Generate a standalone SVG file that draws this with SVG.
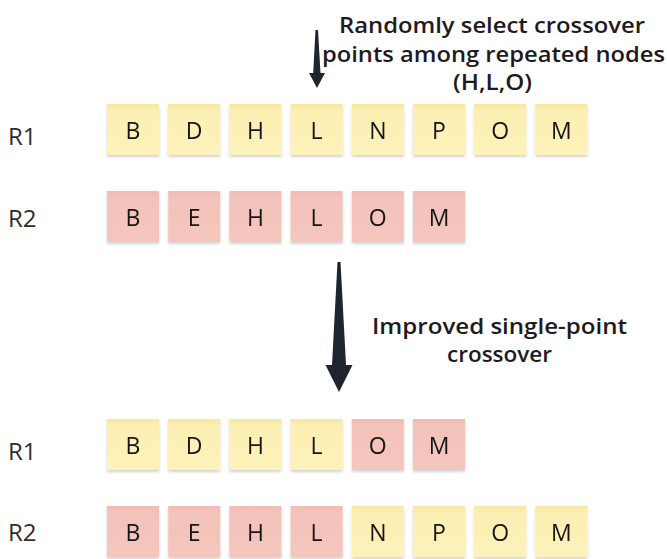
<svg xmlns="http://www.w3.org/2000/svg" width="667" height="559" viewBox="0 0 667 559">
  <defs>
    <linearGradient id="gYellow" x1="0" y1="0" x2="0" y2="1">
      <stop offset="0" stop-color="#f8e7a2"/>
      <stop offset="0.14" stop-color="#fcefb3"/>
      <stop offset="1" stop-color="#fdf2ba"/>
    </linearGradient>
    <linearGradient id="gPink" x1="0" y1="0" x2="0" y2="1">
      <stop offset="0" stop-color="#f0bcb3"/>
      <stop offset="0.14" stop-color="#f3c3bb"/>
      <stop offset="1" stop-color="#f4c6be"/>
    </linearGradient>
    <filter id="shadow" x="-10%" y="-10%" width="120%" height="130%">
      <feGaussianBlur in="SourceAlpha" stdDeviation="1.5"/>
      <feOffset dx="0" dy="2" result="b"/>
      <feComponentTransfer><feFuncA type="linear" slope="0.18"/></feComponentTransfer>
      <feMerge><feMergeNode/><feMergeNode in="SourceGraphic"/></feMerge>
    </filter>
  </defs>
  <style>
    .note { filter: url(#shadow); }
    .y { fill: url(#gYellow); }
    .p { fill: url(#gPink); }
    .lt { font-family: "Open Sans", "Noto Sans", sans-serif; font-size: 23px; fill: #141414; text-anchor: middle; }
    .row { font-family: "Open Sans", "Noto Sans", sans-serif; font-size: 24px; fill: #2e2e2e; }
    .cap { font-family: "Open Sans", "Noto Sans", sans-serif; font-size: 22px; font-weight: 600; fill: #1e1a1e; text-anchor: middle; }
    .arrow { fill: #1e2530; }
  </style>

  <!-- row labels -->
  <g id="labels">
    <text class="row" x="8" y="145">R1</text>
    <text class="row" x="8" y="227">R2</text>
    <text class="row" x="8" y="460">R1</text>
    <text class="row" x="8" y="541">R2</text>
  </g>

  <!-- parent R1 -->
  <g id="p1-B" class="note"><rect class="y" x="107" y="104" width="52" height="51"/><text class="lt" x="133" y="139">B</text></g>
  <g id="p1-D" class="note"><rect class="y" x="168.2" y="104" width="52" height="51"/><text class="lt" x="194.2" y="139">D</text></g>
  <g id="p1-H" class="note"><rect class="y" x="229.4" y="104" width="52" height="51"/><text class="lt" x="255.4" y="139">H</text></g>
  <g id="p1-L" class="note"><rect class="y" x="290.6" y="104" width="52" height="51"/><text class="lt" x="316.6" y="139">L</text></g>
  <g id="p1-N" class="note"><rect class="y" x="351.8" y="104" width="52" height="51"/><text class="lt" x="377.8" y="139">N</text></g>
  <g id="p1-P" class="note"><rect class="y" x="413" y="104" width="52" height="51"/><text class="lt" x="439" y="139">P</text></g>
  <g id="p1-O" class="note"><rect class="y" x="474.2" y="104" width="52" height="51"/><text class="lt" x="500.2" y="139">O</text></g>
  <g id="p1-M" class="note"><rect class="y" x="535.4" y="104" width="52" height="51"/><text class="lt" x="561.4" y="139">M</text></g>

  <!-- parent R2 -->
  <g id="p2-B" class="note"><rect class="p" x="107" y="191" width="52" height="51"/><text class="lt" x="133" y="226">B</text></g>
  <g id="p2-E" class="note"><rect class="p" x="168.2" y="191" width="52" height="51"/><text class="lt" x="194.2" y="226">E</text></g>
  <g id="p2-H" class="note"><rect class="p" x="229.4" y="191" width="52" height="51"/><text class="lt" x="255.4" y="226">H</text></g>
  <g id="p2-L" class="note"><rect class="p" x="290.6" y="191" width="52" height="51"/><text class="lt" x="316.6" y="226">L</text></g>
  <g id="p2-O" class="note"><rect class="p" x="351.8" y="191" width="52" height="51"/><text class="lt" x="377.8" y="226">O</text></g>
  <g id="p2-M" class="note"><rect class="p" x="413" y="191" width="52" height="51"/><text class="lt" x="439" y="226">M</text></g>

  <!-- offspring R1 -->
  <g id="c1-B" class="note"><rect class="y" x="107" y="419" width="52" height="51"/><text class="lt" x="133" y="454">B</text></g>
  <g id="c1-D" class="note"><rect class="y" x="168.2" y="419" width="52" height="51"/><text class="lt" x="194.2" y="454">D</text></g>
  <g id="c1-H" class="note"><rect class="y" x="229.4" y="419" width="52" height="51"/><text class="lt" x="255.4" y="454">H</text></g>
  <g id="c1-L" class="note"><rect class="y" x="290.6" y="419" width="52" height="51"/><text class="lt" x="316.6" y="454">L</text></g>
  <g id="c1-O" class="note"><rect class="p" x="351.8" y="419" width="52" height="51"/><text class="lt" x="377.8" y="454">O</text></g>
  <g id="c1-M" class="note"><rect class="p" x="413" y="419" width="52" height="51"/><text class="lt" x="439" y="454">M</text></g>

  <!-- offspring R2 -->
  <g id="c2-B" class="note"><rect class="p" x="107" y="506" width="52" height="51"/><text class="lt" x="133" y="541">B</text></g>
  <g id="c2-E" class="note"><rect class="p" x="168.2" y="506" width="52" height="51"/><text class="lt" x="194.2" y="541">E</text></g>
  <g id="c2-H" class="note"><rect class="p" x="229.4" y="506" width="52" height="51"/><text class="lt" x="255.4" y="541">H</text></g>
  <g id="c2-L" class="note"><rect class="p" x="290.6" y="506" width="52" height="51"/><text class="lt" x="316.6" y="541">L</text></g>
  <g id="c2-N" class="note"><rect class="y" x="351.8" y="506" width="52" height="51"/><text class="lt" x="377.8" y="541">N</text></g>
  <g id="c2-P" class="note"><rect class="y" x="413" y="506" width="52" height="51"/><text class="lt" x="439" y="541">P</text></g>
  <g id="c2-O" class="note"><rect class="y" x="474.2" y="506" width="52" height="51"/><text class="lt" x="500.2" y="541">O</text></g>
  <g id="c2-M" class="note"><rect class="y" x="535.4" y="506" width="52" height="51"/><text class="lt" x="561.4" y="541">M</text></g>

  <!-- captions -->
  <g id="caption-select">
    <text class="cap" x="492" y="33" textLength="306" lengthAdjust="spacingAndGlyphs">Randomly select crossover</text>
    <text class="cap" x="493.5" y="62" textLength="343" lengthAdjust="spacingAndGlyphs">points among repeated nodes</text>
    <text class="cap" x="492.5" y="90" textLength="79" lengthAdjust="spacingAndGlyphs">(H,L,O)</text>
  </g>
  <g id="caption-crossover">
    <text class="cap" x="499.5" y="334" textLength="255" lengthAdjust="spacingAndGlyphs">Improved single-point</text>
    <text class="cap" x="499.5" y="362" textLength="105" lengthAdjust="spacingAndGlyphs">crossover</text>
  </g>

  <!-- tapered arrows -->
  <g id="connectors">
    <polygon class="arrow" points="315.5,30 318,30 320.5,73 325,73 317,88 309,73 313.2,73"/>
    <polygon class="arrow" points="337.5,262 340.5,262 346,365 352.5,365 339,392 325.5,365 332,365"/>
  </g>
</svg>
